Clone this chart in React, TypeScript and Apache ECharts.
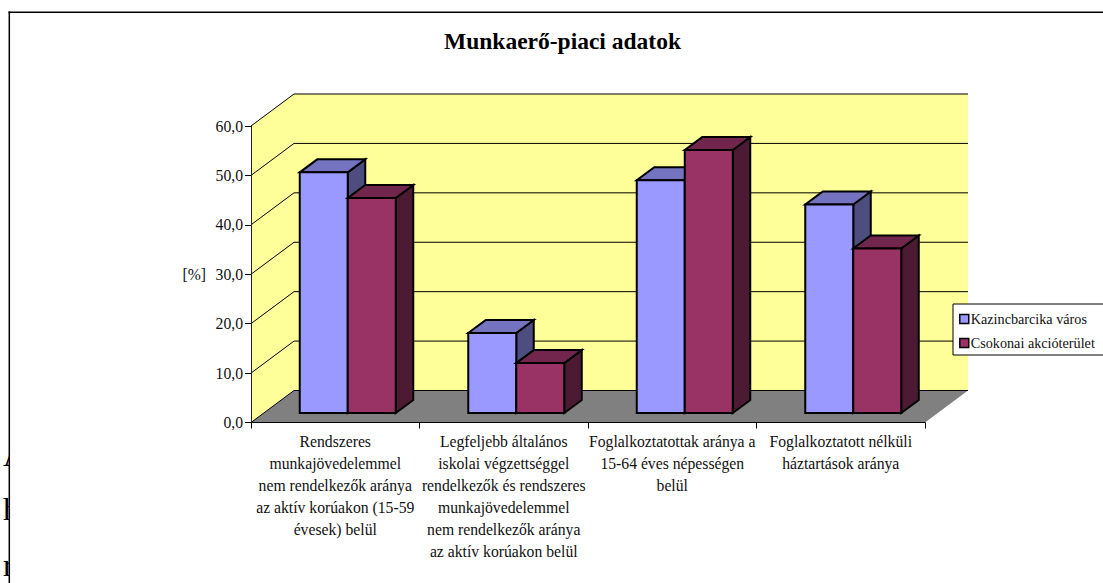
import React, { useEffect, useRef } from "react";
import * as echarts from "echarts";

const categories = [
  "Rendszeres\nmunkajövedelemmel\nnem rendelkezők aránya\naz aktív korúakon (15-59\névesek) belül",
  "Legfeljebb általános\niskolai végzettséggel\nrendelkezők és rendszeres\nmunkajövedelemmel\nnem rendelkezők aránya\naz aktív korúakon belül",
  "Foglalkoztatottak aránya a\n15-64 éves népességen\nbelül",
  "Foglalkoztatott nélküli\nháztartások aránya",
];
const kazincbarcika = [48.7, 16.2, 47.1, 42.2];
const csokonai = [43.5, 10.1, 53.2, 33.3];
const yTicks = [0, 10, 20, 30, 40, 50, 60];
const seriesNames = ["Kazincbarcika város", "Csokonai akcióterület"];
const title = "Munkaerő-piaci adatok";
const yName = "[%]";
const clippedLetters = ["A", "h", "r"];

const FONT = "Liberation Serif";
const COLORS = [
  { front: "#9999FF", top: "#7373BF", side: "#4D4D80" },
  { front: "#993366", top: "#73264D", side: "#4D1A33" },
];
const WALL_DX = 43;
const WALL_DY = 32;
const BAR_W = 48;
const BAR_OFF_X = 12.5;
const BAR_OFF_Y = 9.5;
const BAR_DX = 17.5;
const BAR_DY = 13;

function barRenderer(idx: number) {
  return (_: any, api: any) => {
    const cat = api.value(0);
    const base = api.coord([cat, 0]);
    const top = api.coord([cat, api.value(1)]);
    const x0 = base[0] + BAR_OFF_X + (idx === 0 ? -BAR_W : 0);
    const x1 = x0 + BAR_W;
    const yb = base[1] - BAR_OFF_Y;
    const yt = top[1] - BAR_OFF_Y;
    const c = COLORS[idx];
    const stroke = { stroke: "#000", lineWidth: 2, lineJoin: "miter" };
    return {
      type: "group",
      children: [
        {
          type: "polygon",
          shape: { points: [[x1, yb], [x1 + BAR_DX, yb - BAR_DY], [x1 + BAR_DX, yt - BAR_DY], [x1, yt]] },
          style: { fill: c.side, ...stroke },
        },
        {
          type: "polygon",
          shape: { points: [[x0, yt], [x1, yt], [x1 + BAR_DX, yt - BAR_DY], [x0 + BAR_DX, yt - BAR_DY]] },
          style: { fill: c.top, ...stroke },
        },
        {
          type: "polygon",
          shape: { points: [[x0, yb], [x1, yb], [x1, yt], [x0, yt]] },
          style: { fill: c.front, ...stroke },
        },
      ],
    };
  };
}

function wallRenderer(params: any, api: any) {
  const band = api.size([1, 0])[0];
  const origin = api.coord([0, 0]);
  const L = origin[0] - band / 2;
  const R = L + band * categories.length;
  const y0 = origin[1];
  const yMax = api.coord([0, yTicks[yTicks.length - 1]])[1];
  const y = api.coord([0, api.value(1)])[1];
  const children: any[] = [];
  if (params.dataIndex === 0) {
    children.push(
      {
        type: "polygon",
        shape: { points: [[L + WALL_DX, yMax - WALL_DY], [R + WALL_DX, yMax - WALL_DY], [R + WALL_DX, y0 - WALL_DY], [L + WALL_DX, y0 - WALL_DY]] },
        style: { fill: "#FFFF99" },
      },
      {
        type: "polygon",
        shape: { points: [[L, yMax], [L + WALL_DX, yMax - WALL_DY], [L + WALL_DX, y0 - WALL_DY], [L, y0]] },
        style: { fill: "#FFFF99" },
      },
      {
        type: "polygon",
        shape: { points: [[L, y0], [R, y0], [R + WALL_DX, y0 - WALL_DY], [L + WALL_DX, y0 - WALL_DY]] },
        style: { fill: "#808080" },
      }
    );
  }
  children.push({
    type: "polyline",
    shape: { points: [[L, y], [L + WALL_DX, y - WALL_DY], [R + WALL_DX, y - WALL_DY]] },
    style: { fill: "none", stroke: "#000", lineWidth: 1 },
  });
  return { type: "group", children };
}

export default function App() {
  const ref = useRef<HTMLDivElement>(null);
  useEffect(() => {
    document.body.style.margin = "0";
    const chart = echarts.init(ref.current!, undefined, { renderer: "svg" });
    const axisText = { fontFamily: FONT, fontSize: 15.7, color: "#111" };
    chart.setOption({
      animation: false,
      backgroundColor: "#fff",
      title: {
        text: title,
        left: 557.5,
        top: 24,
        textAlign: "center",
        textStyle: { fontFamily: FONT, fontSize: 23.5, fontWeight: "bold", color: "#000" },
      },
      legend: {
        orient: "vertical",
        left: 953,
        top: 304,
        padding: [7, 30, 4, 6],
        itemGap: 8,
        itemWidth: 9,
        itemHeight: 9,
        icon: "rect",
        borderColor: "#000",
        borderWidth: 1,
        backgroundColor: "#fff",
        itemStyle: { borderColor: "#000", borderWidth: 1.5 },
        textStyle: { fontFamily: FONT, fontSize: 14.2, color: "#111", lineHeight: 16, padding: [0, 0, 0, -3] },
        data: seriesNames,
      },
      grid: { left: 251, top: 126, width: 674, height: 296.5 },
      xAxis: {
        type: "category",
        data: categories,
        z: 10,
        axisLine: { lineStyle: { color: "#000", width: 1 } },
        axisTick: { show: true, length: 6, lineStyle: { color: "#000" }, interval: 0 },
        axisLabel: { ...axisText, interval: 0, lineHeight: 22, margin: 8 },
        splitLine: { show: false },
      },
      yAxis: {
        type: "value",
        min: 0,
        max: yTicks[yTicks.length - 1],
        interval: 10,
        z: 10,
        name: yName,
        nameLocation: "middle",
        nameRotate: 0,
        nameGap: 45,
        nameTextStyle: axisText,
        axisLine: { show: true, lineStyle: { color: "#222", width: 1 } },
        axisTick: { show: true, length: 6, lineStyle: { color: "#000" } },
        axisLabel: { ...axisText, margin: 8, formatter: (v: number) => v.toFixed(1).replace(".", ",") },
        splitLine: { show: false },
      },
      series: [
        {
          type: "custom",
          name: "walls",
          silent: true,
          z: 1,
          renderItem: wallRenderer,
          encode: { x: 0, y: 1 },
          data: yTicks.map((t) => [0, t]),
        },
        {
          type: "custom",
          name: seriesNames[0],
          z: 2,
          itemStyle: { color: COLORS[0].front },
          renderItem: barRenderer(0),
          encode: { x: 0, y: 1 },
          data: kazincbarcika.map((v, i) => [i, v]),
        },
        {
          type: "custom",
          name: seriesNames[1],
          z: 3,
          itemStyle: { color: COLORS[1].front },
          renderItem: barRenderer(1),
          encode: { x: 0, y: 1 },
          data: csokonai.map((v, i) => [i, v]),
        },
      ],
      graphic: [
        { type: "text", x: 3, y: 439, z: 0, style: { text: clippedLetters[0], fontFamily: FONT, fontSize: 32, fill: "#000" } },
        { type: "text", x: 3, y: 493, z: 0, style: { text: clippedLetters[1], fontFamily: FONT, fontSize: 32, fill: "#000" } },
        { type: "text", x: 3, y: 549, z: 0, style: { text: clippedLetters[2], fontFamily: FONT, fontSize: 32, fill: "#000" } },
        { type: "rect", x: 9, y: 430, z: 1, shape: { width: 30, height: 153 }, style: { fill: "#fff" } },
        { type: "line", z: 2, shape: { x1: 9.3, y1: 11.5, x2: 9.3, y2: 583 }, style: { stroke: "#000", lineWidth: 1.5 } },
        { type: "line", z: 2, shape: { x1: 8.5, y1: 12.3, x2: 1103, y2: 12.3 }, style: { stroke: "#000", lineWidth: 1.5 } },
      ],
    });
    return () => chart.dispose();
  }, []);
  return <div ref={ref} style={{ width: 1103, height: 583 }} />;
}
